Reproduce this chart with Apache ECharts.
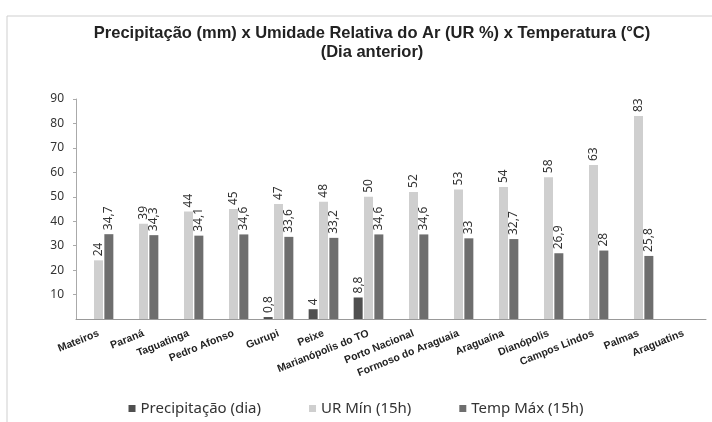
<!DOCTYPE html>
<html>
<head>
<meta charset="utf-8">
<script src="https://cdn.jsdelivr.net/npm/echarts@6/dist/echarts.min.js"></script>
<style>
  html, body { margin: 0; padding: 0; background: #fff; }
  #chart { width: 712px; height: 422px; }
</style>
</head>
<body>
<div id="chart"></div>
<script>
// dados
var cidades = ['Mateiros', 'Paraná', 'Taguatinga', 'Pedro Afonso', 'Gurupi', 'Peixe',
  'Marianópolis do TO', 'Porto Nacional', 'Formoso do Araguaia', 'Araguaína',
  'Dianópolis', 'Campos Lindos', 'Palmas', 'Araguatins']
var precipitacao = [null, null, null, null, 0.8, 4, 8.8, null, null, null, null, null, null, null]
var urMin = [24, 39, 44, 45, 47, 48, 50, 52, 53, 54, 58, 63, 83, null]
var tempMax = [34.7, 34.3, 34.1, 34.6, 33.6, 33.2, 34.6, 34.6, 33, 32.7, 26.9, 28, 25.8, null]
var yTicks = [10, 20, 30, 40, 50, 60, 70, 80, 90]

var virgula = function (p) {
  return String(p.value).replace('.', ',')
}

var rotulo = {
  show: true,
  position: 'top',
  rotate: 90,
  align: 'left',
  verticalAlign: 'middle',
  distance: 4,
  fontFamily: 'Noto Sans',
  fontSize: 12,
  color: '#333',
  formatter: virgula
}

function serie (nome, dados, cor) {
  return {
    name: nome,
    type: 'bar',
    barWidth: 9,
    barGap: '15%',
    data: dados,
    itemStyle: { color: cor },
    label: rotulo
  }
}

var chart = echarts.init(document.getElementById('chart'))
chart.setOption({
  animation: false,
  graphic: [{
    type: 'rect',
    shape: { x: 7, y: 16, width: 720, height: 420 },
    style: { fill: 'none', stroke: '#cfcfcf', lineWidth: 1 }
  }],
  title: {
    text: 'Precipitação (mm) x Umidade Relativa do Ar (UR %) x Temperatura (°C)\n(Dia anterior)',
    left: 367,
    top: 19,
    textAlign: 'center',
    textStyle: {
      fontFamily: 'Liberation Sans',
      fontWeight: 'bold',
      fontSize: 16.5,
      lineHeight: 19,
      color: '#222'
    }
  },
  legend: {
    bottom: 1,
    left: 'center',
    itemWidth: 7,
    itemHeight: 7,
    itemGap: 48,
    icon: 'rect',
    textStyle: { fontFamily: 'Noto Sans', fontSize: 15, color: '#333' },
    data: ['Precipitação (dia)', 'UR Mín (15h)', 'Temp Máx (15h)']
  },
  grid: {
    left: 76,
    right: 6,
    top: 99,
    bottom: 103
  },
  xAxis: {
    type: 'category',
    data: cidades,
    axisLine: { lineStyle: { color: '#999' } },
    axisTick: { show: false },
    axisLabel: {
      interval: 0,
      rotate: 22,
      margin: 14,
      fontFamily: 'Liberation Sans',
      fontWeight: 'bold',
      fontSize: 10.5,
      color: '#222'
    }
  },
  yAxis: {
    type: 'value',
    min: 0,
    max: yTicks[yTicks.length - 1],
    interval: 10,
    axisLine: { show: true, lineStyle: { color: '#aaa' } },
    axisTick: { show: true, length: 3, lineStyle: { color: '#aaa' } },
    splitLine: { show: false },
    axisLabel: {
      showMinLabel: false,
      margin: 12,
      fontFamily: 'Noto Sans',
      fontSize: 12,
      color: '#333'
    }
  },
  series: [
    serie('Precipitação (dia)', precipitacao, '#4f4f4f'),
    serie('UR Mín (15h)', urMin, '#cfcfcf'),
    serie('Temp Máx (15h)', tempMax, '#6e6e6e')
  ]
})
</script>
</body>
</html>
